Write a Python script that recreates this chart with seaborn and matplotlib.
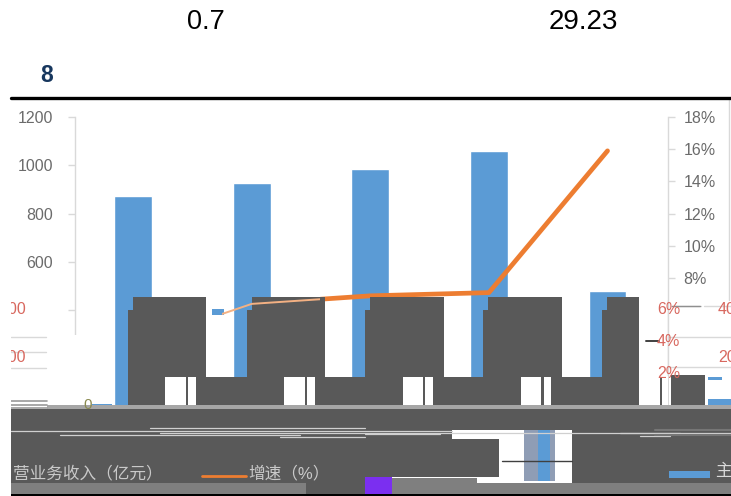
import matplotlib
matplotlib.use("Agg")
import matplotlib.pyplot as plt
from matplotlib.lines import Line2D
from matplotlib.patches import Rectangle
from matplotlib.transforms import Affine2D
import pandas as pd
import seaborn as sns

# Chart data
periods = ["P1", "P2", "P3", "P4", "P5"]
revenue = [874, 925, 986, 1058, 478]
growth = [3.9, 6.4, 6.9, 7.1, 15.9]
left_ticks = [0, 200, 400, 600, 800, 1000, 1200]
left_labels = ["", "", "", "600", "800", "1000", "1200"]
right_ticks = [0, 2, 4, 6, 8, 10, 12, 14, 16, 18]
right_labels = ["", "", "", "", "8%", "10%", "12%", "14%", "16%", "18%"]

W, H = 731, 496
BLUE, ORANGE, DARK = "#5b9bd5", "#ed7d31", "#595959"
GREY_TEXT, SPINE = "#6b6b6b", "#d9d9d9"

sns.set_theme(style="white")
plt.rcParams["font.family"] = ["Liberation Sans", "Noto Sans CJK SC", "DejaVu Sans"]

fig = plt.figure(figsize=(W / 100, H / 100), dpi=100, facecolor="white")
ax = fig.add_axes([75 / W, 1 - 407 / H, 593 / W, 290 / H])
px = Affine2D().scale(1 / W, -1 / H).translate(0, 1) + fig.transFigure

df = pd.DataFrame({"period": periods, "revenue": revenue, "growth": growth})
sns.barplot(data=df, x="period", y="revenue", color=BLUE, saturation=1, width=0.32, ax=ax)
ax.set_xlim(-0.49, 4.51)
ax.set_ylim(0, 1200)
ax.set_xlabel("")
ax.set_ylabel("")
ax.set_xticks([])
ax.set_yticks(left_ticks, left_labels)
ax.tick_params(axis="y", length=5, width=1, color=SPINE, labelcolor=GREY_TEXT, labelsize=11.5, pad=11, left=True)

ax2 = ax.twinx()
sns.lineplot(data=df, x="period", y="growth", color=ORANGE, linewidth=3.4, ax=ax2,
             solid_capstyle="round", legend=False)
ax2.set_ylim(0, 18)
ax2.set_xlim(-0.49, 4.51)
ax2.set_xlabel("")
ax2.set_ylabel("")
ax2.set_yticks(right_ticks, right_labels)
ax2.tick_params(axis="y", length=5, width=1, color=SPINE, labelcolor=GREY_TEXT, labelsize=11.5, pad=6, right=True)

# The heavy growth line only shows to the right of the second panel
ax2.lines[0].set_clip_path(Rectangle((320, 100), 360, 300, transform=px))

for a in (ax, ax2):
    for name, spine in a.spines.items():
        spine.set_visible(name == ("left" if a is ax else "right"))
        spine.set_color(SPINE)
        spine.set_linewidth(1)


def block(x0, y0, x1, y1, color=DARK, z=2):
    fig.add_artist(Rectangle((x0, y0), x1 - x0, y1 - y0, transform=px, facecolor=color,
                             edgecolor="none", zorder=z))


def rule(x0, y0, x1, y1, color=SPINE, lw=1.0, z=3):
    fig.add_artist(Line2D([x0, x1], [y0, y1], transform=px, color=color, linewidth=lw, zorder=z))


def label(x, y, s, color=GREY_TEXT, size=11.5, ha="left", z=4, **kw):
    fig.text(x / W, 1 - y / H, s, color=color, fontsize=size, ha=ha, va="center", zorder=z, **kw)


# Cleared regions beside the plot
block(0, 335, 114, 405, "white", 1.5)
block(640, 376, 668, 405, "white", 1.5)
block(669, 300, 731, 405, "white", 1.5)

# Solid panels across the plot body
for x0, x1, step in [(128, 206, 133), (247, 325, 252), (365, 444, 370), (483, 562, 488), (602, 639, 607)]:
    block(step, 297, x1, 377)
    block(x0, 310, x1, 377)
for x0, x1 in [(128, 165), (186, 188), (196, 284), (305, 307), (315, 403), (423, 425),
               (433, 521), (541, 544), (551, 639), (671, 705)]:
    block(x0, 377, x1, 405)
block(660, 377, 662, 405)
block(671, 375, 705, 377)
block(708, 377, 722, 380, BLUE)
block(708, 399, 731, 405, BLUE)
block(212, 309, 224, 315, BLUE)
block(92, 404, 112, 407, BLUE)

# Thin trace of the growth line crossing the panels
trace = Line2D(range(len(periods)), growth, transform=ax2.transData, color="#f4b183", linewidth=1.4, zorder=3)
fig.add_artist(trace)
trace.set_clip_path(Rectangle((222, 290), 98, 30, transform=px))

# Bands under the plot
block(47, 405, 731, 409, "#a6a6a6")
block(11, 409, 731, 425)
block(11, 425, 365, 494)
block(365, 425, 731, 430)
block(365, 430, 452, 439)
block(365, 439, 499, 477)
block(572, 430, 731, 471)
block(499, 430, 524, 481, "white")
block(524, 430, 555, 481, "#8f9db5")
block(538, 430, 550, 481, BLUE)
block(555, 430, 572, 481, "white")
block(572, 471, 669, 483)
block(710, 471, 731, 483)
block(669, 471, 710, 478, BLUE)
block(669, 478, 731, 483)
block(477, 477, 524, 483, "white")
block(365, 477, 392, 494, "#7b2ff0", 3)
block(392, 483, 731, 494, "#7f7f7f")
block(392, 478, 477, 483, "#7f7f7f")
block(11, 483, 306, 494, "#7f7f7f", 5)
for y, x0, x1 in [(428, 150, 365), (431, 11, 365), (433, 160, 731), (435, 60, 300), (437, 280, 365),
                  (431, 365, 452), (434, 365, 440), (433, 620, 680), (436, 640, 670)]:
    rule(x0, y, x1, y, "#d0d0d0", 0.9)
for y in (430, 435):
    rule(655, y, 731, y, "#767676", 1.5)
rule(502, 461, 572, 461, "#404040", 1.0)
for y in (401, 405, 408):
    rule(11, y, 47, y, "#9a9a9a", 1.2)

# Orange key and captions on the dark band
rule(202, 476, 246, 476, ORANGE, 2)
label(13, 473, "营业务收入（亿元）", "#c9c9c9", 12)
label(248, 473, "增速（%）", "#c9c9c9", 12)
label(715, 471, "主", "#d9d9d9", 12)

# Displaced axis labels around the cleared regions
label(26, 310, "400", "#d8685f", ha="right")
label(26, 358, "200", "#d8685f", ha="right")
label(83, 405, "0", "#8a8a50", 11, z=3)
label(657, 309, "6%", "#d8685f")
label(657, 341, "4%", "#d8685f")
label(657, 373, "2%", "#d8685f")
label(718, 309, "40", "#d8685f")
label(718, 357, "20", "#d8685f")
block(0, 300, 11, 420, "white", 5)

for x0, x1, y in [(11, 46, 337), (11, 46, 352), (11, 46, 368), (668, 731, 337), (668, 731, 367),
                  (671, 701, 306), (704, 731, 306)]:
    rule(x0, y, x1, y)
rule(668, 300, 668, 375)
rule(729, 98, 729, 300)
rule(646, 341, 659, 341, "#404040", 1.4)
rule(672, 306, 700, 306, "#8f8f8f", 1.0)

# Header figures and rule
label(206, 22, "0.7", "black", 19.5, ha="center")
label(583, 22, "29.23", "black", 20, ha="center")
label(47, 76, "8", "#17375e", 16.5, ha="center", fontweight="bold", z=4)
rule(11, 97.5, 731, 97.5, "black", 2.4)
block(11, 494, 731, 496, "black", 6)

fig.savefig("out.png", dpi=100)
